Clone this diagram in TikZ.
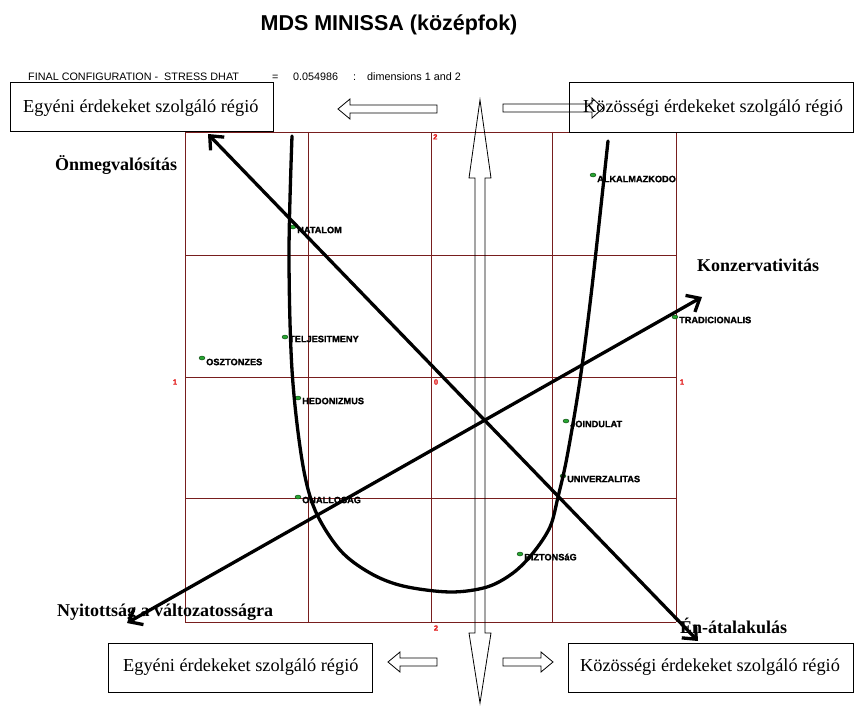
\documentclass[tikz,border=0pt]{standalone}
\usepackage{fontspec}
\setmainfont{Liberation Serif}
\setsansfont{Liberation Sans}
\newfontfamily\ptfont{Liberation Sans}[BoldFeatures={FakeBold=1.6}]
\usetikzlibrary{arrows.meta,shapes.geometric}

\definecolor{gridred}{RGB}{120,30,30}
\definecolor{axisred}{RGB}{225,25,25}
\definecolor{dotgreen}{RGB}{40,165,50}

\begin{document}
\begin{tikzpicture}[x=1pt,y=-1pt,
  gridline/.style={draw=gridred, line width=0.9pt},
  axislabel/.style={text=axisred, font=\ptfont\bfseries\fontsize{7.5}{8}\selectfont, inner sep=0pt},
  pointdot/.style={ellipse, draw=black!60!dotgreen, fill=dotgreen, line width=0.4pt,
    minimum width=6pt, minimum height=4pt, inner sep=0pt},
  pointlabel/.style={anchor=west, inner sep=0pt, font=\ptfont\bfseries\fontsize{9.2}{10}\selectfont},
  header/.style={anchor=base west, inner sep=0pt, font=\sffamily\fontsize{10.8}{12}\selectfont},
  regionbox/.style={draw, line width=0.8pt, fill=white, anchor=north west, inner sep=0pt},
  regiontext/.style={anchor=base west, inner sep=0pt, font=\fontsize{18.3}{20}\selectfont},
  dimlabel/.style={anchor=base west, inner sep=0pt, font=\bfseries\fontsize{18}{20}\selectfont},
  thickcurve/.style={line width=3.3pt, line cap=round},
  dimarrow/.style={line width=3.3pt, {Straight Barb[length=11pt,width=19pt]}-{Straight Barb[length=11pt,width=19pt]}},
  hollow/.style={draw, line width=0.8pt, line join=miter}
]
\useasboundingbox (0,0) rectangle (854,706);

% title
\node[font=\sffamily\bfseries\fontsize{21.5}{24}\selectfont, inner sep=0pt] (title) at (389,25) {MDS MINISSA (középfok)};

% header line of the MINISSA output
\node[header] (hd1) at (28,81) {FINAL CONFIGURATION -\ \ STRESS DHAT};
\node[header] (hd2) at (272,81) {=};
\node[header] (hd3) at (293,81) {0.054986};
\node[header] (hd4) at (353,81) {:};
\node[header] (hd5) at (367,81) {dimensions 1 and 2};

% configuration grid
\foreach \gx in {185,308,431,552,676} \draw[gridline] (\gx,132) -- (\gx,622);
\foreach \gy in {132,255,377,498,622} \draw[gridline] (185,\gy) -- (676,\gy);

\node[axislabel, anchor=north west] (ax2t) at (433,134) {2};
\node[axislabel] (ax1l) at (175,382) {1};
\node[axislabel] (ax0) at (436,382) {0};
\node[axislabel] (ax1r) at (682,382) {1};
\node[axislabel] (ax2b) at (436,628) {2};

% value points
\node[pointdot] (p1) at (293,227) {};  \node[pointlabel] at (297,230) {HATALOM};
\node[pointdot] (p2) at (285,337) {};  \node[pointlabel] at (289,339) {TELJESITMENY};
\node[pointdot] (p3) at (202,358) {};  \node[pointlabel] at (206,362) {OSZTONZES};
\node[pointdot] (p4) at (298,398) {};  \node[pointlabel] at (302,401) {HEDONIZMUS};
\node[pointdot] (p5) at (298,497) {};  \node[pointlabel] at (302,500) {ONALLOSAG};
\node[pointdot] (p6) at (593,175) {};  \node[pointlabel] at (597,179) {ALKALMAZKODO};
\node[pointdot] (p7) at (675,317) {};  \node[pointlabel] at (679,320) {TRADICIONALIS};
\node[pointdot] (p8) at (566,421) {};  \node[pointlabel] at (570,424) {JOINDULAT};
\node[pointdot] (p9) at (563,476) {};  \node[pointlabel] at (567,479) {UNIVERZALITAS};
\node[pointdot] (p10) at (520,554) {}; \node[pointlabel] at (524,557) {BIZTONSáG};

% U-shaped separating curve
\draw[thickcurve] plot[smooth, tension=0.55] coordinates {
  (292,136) (289,253) (292,370) (302,460) (315,510) (340,550) (370,573)
  (403,586) (450,592) (487,587) (513,573) (533,553) (550,527) (558,497)
  (567,457) (580,380) (592,287) (608,141)};

% dimension arrows
\coordinate (openness) at (127,623);
\coordinate (conserv) at (702,297);
\coordinate (selfenh) at (208,134);
\coordinate (selftr) at (698,641);
\draw[dimarrow] (openness) -- (conserv);
\draw[dimarrow] (selfenh) -- (selftr);

\node[dimlabel] (lself) at (55,171) {Önmegvalósítás};
\node[dimlabel] (lcons) at (697,271) {Konzervativitás};
\node[dimlabel] (lopen) at (57,616) {Nyitottság a változatosságra};
\node[dimlabel] (ltrans) at (680,633) {Én-átalakulás};

% region boxes
\node[regionbox, minimum width=263pt, minimum height=49pt] (boxtl) at (10,82) {};
\node[regiontext] at (23,113) {Egyéni érdekeket szolgáló régió};
\node[regionbox, minimum width=284pt, minimum height=50pt] (boxtr) at (569,82) {};
\node[regiontext] at (583,113) {Közösségi érdekeket szolgáló régió};
\node[regionbox, minimum width=264pt, minimum height=49pt] (boxbl) at (108,643) {};
\node[regiontext] at (123,671) {Egyéni érdekeket szolgáló régió};
\node[regionbox, minimum width=285pt, minimum height=49pt] (boxbr) at (568,643) {};
\node[regiontext] at (580,671) {Közösségi érdekeket szolgáló régió};

% hollow block arrows between the regions
\draw[hollow] (338,109) -- (350,99) -- (350,105) -- (437,105) -- (437,113) -- (350,113) -- (350,119) -- cycle;
\draw[hollow] (603,108) -- (592,98) -- (592,104) -- (503,104) -- (503,112) -- (592,112) -- (592,118) -- cycle;
\draw[hollow] (388,662) -- (400,652) -- (400,658) -- (437,658) -- (437,666) -- (400,666) -- (400,672) -- cycle;
\draw[hollow] (553,662) -- (541,652) -- (541,658) -- (503,658) -- (503,666) -- (541,666) -- (541,672) -- cycle;
\draw[hollow] (480,100) -- (491,178) -- (485,178) -- (485,633) -- (491,633) -- (480,703)
  -- (469,633) -- (475,633) -- (475,178) -- (469,178) -- cycle;
\end{tikzpicture}
\end{document}
